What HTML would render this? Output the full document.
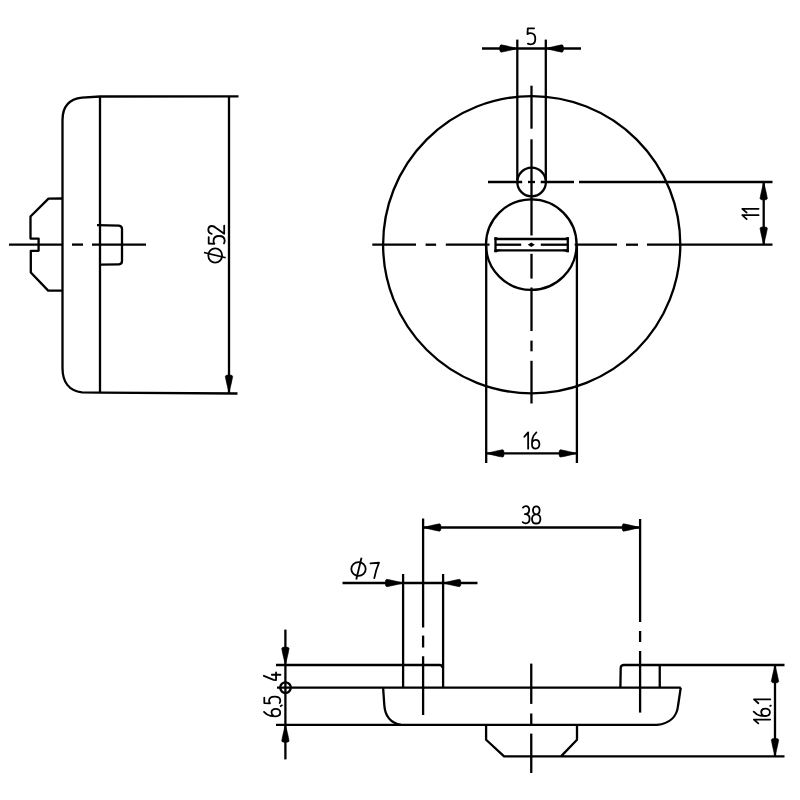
<!DOCTYPE html>
<html><head><meta charset="utf-8"><style>
html,body{margin:0;padding:0;background:#fff;}
body{width:800px;height:800px;overflow:hidden;font-family:"Liberation Sans",sans-serif;}
svg{display:block;}
</style></head><body>
<svg width="800" height="800" viewBox="0 0 800 800">
<g fill="none" stroke="#000" stroke-linecap="butt" stroke-linejoin="round">
<path d="M100,96.5 L82,97.6 C69,99 62.5,107 62.5,120 L62.5,368 C62.5,382 69,391 82,392.3 L100,392.6" stroke-width="2.3"/>
<line x1="100" y1="96.5" x2="238.5" y2="96.3" stroke-width="2.3"/>
<line x1="100" y1="392.6" x2="237.5" y2="393.5" stroke-width="2.3"/>
<line x1="100" y1="96.5" x2="100" y2="392.6" stroke-width="2.3"/>
<path d="M62.5,198.5 L48.5,198.6 L30.5,216.5 L30.5,238.6 L38.6,238.6 L38.6,250.8 L30.8,250.8 L30.8,272.5 L48.2,290.6 L62.5,290.6" stroke-width="2.3"/>
<path d="M97,225.2 L119,225.6 Q122,226 122,229 L122,261 Q122,264.2 119,264.3 L100,264.6" stroke-width="2.3"/>
<line x1="9" y1="244.6" x2="62.5" y2="244.6" stroke-width="2.3"/>
<line x1="72" y1="244.6" x2="83" y2="244.6" stroke-width="2.3"/>
<line x1="92" y1="244.6" x2="146" y2="244.6" stroke-width="2.3"/>
<line x1="229" y1="96.3" x2="229" y2="393.5" stroke-width="2.3"/>
<path transform="translate(229,392.6) rotate(90)" d="M0,0 C-5,-1.2 -11,-2.9 -16.2,-3.7 Q-17.8,-3.6 -17.6,0 Q-17.8,3.6 -16.2,3.7 C-11,2.9 -5,1.2 0,0 Z" fill="#000" stroke="#000" stroke-width="0.6" stroke-linejoin="round"/>
<circle cx="531.7" cy="244.7" r="148.6" stroke-width="2.3"/>
<circle cx="531.6" cy="182" r="14.3" stroke-width="2.3"/>
<circle cx="531.3" cy="244.6" r="45.3" stroke-width="2.3"/>
<line x1="517.3" y1="39.6" x2="517.3" y2="180" stroke-width="2.3"/>
<line x1="545.8" y1="39.6" x2="545.8" y2="180" stroke-width="2.3"/>
<line x1="482" y1="48.5" x2="581" y2="48.5" stroke-width="2.3"/>
<path transform="translate(517.3,48.5) rotate(0)" d="M0,0 C-5,-1.2 -11,-2.9 -16.2,-3.7 Q-17.8,-3.6 -17.6,0 Q-17.8,3.6 -16.2,3.7 C-11,2.9 -5,1.2 0,0 Z" fill="#000" stroke="#000" stroke-width="0.6" stroke-linejoin="round"/>
<path transform="translate(545.8,48.5) rotate(180)" d="M0,0 C-5,-1.2 -11,-2.9 -16.2,-3.7 Q-17.8,-3.6 -17.6,0 Q-17.8,3.6 -16.2,3.7 C-11,2.9 -5,1.2 0,0 Z" fill="#000" stroke="#000" stroke-width="0.6" stroke-linejoin="round"/>
<line x1="531.5" y1="85.7" x2="531.5" y2="128.7" stroke-width="2.3"/>
<line x1="531.5" y1="139.3" x2="531.5" y2="235.5" stroke-width="2.3"/>
<line x1="531.5" y1="253.8" x2="531.5" y2="278.6" stroke-width="2.3"/>
<line x1="531.5" y1="287.5" x2="531.5" y2="331" stroke-width="2.3"/>
<line x1="531.5" y1="340.6" x2="531.5" y2="351.3" stroke-width="2.3"/>
<line x1="531.5" y1="360.8" x2="531.5" y2="403.5" stroke-width="2.3"/>
<line x1="488" y1="182" x2="522.2" y2="182" stroke-width="2.3"/>
<line x1="528" y1="182" x2="535" y2="182" stroke-width="2.3"/>
<line x1="540.7" y1="182" x2="574" y2="182" stroke-width="2.3"/>
<line x1="579" y1="182" x2="772.5" y2="182" stroke-width="2.3"/>
<line x1="372.3" y1="244.7" x2="416" y2="244.7" stroke-width="2.3"/>
<line x1="425.6" y1="244.7" x2="436.1" y2="244.7" stroke-width="2.3"/>
<line x1="445.8" y1="244.7" x2="489.5" y2="244.7" stroke-width="2.3"/>
<line x1="495.5" y1="244.7" x2="521.2" y2="244.7" stroke-width="2.3"/>
<line x1="540.8" y1="244.7" x2="567.8" y2="244.7" stroke-width="2.3"/>
<line x1="574.7" y1="244.7" x2="617" y2="244.7" stroke-width="2.3"/>
<line x1="626" y1="244.7" x2="638" y2="244.7" stroke-width="2.3"/>
<line x1="647" y1="244.7" x2="772.5" y2="244.7" stroke-width="2.3"/>
<path d="M527.8,244.8 L531.3,242.6 L534.8,244.8 L531.3,247 Z" fill="#000" stroke="none"/>
<line x1="495.5" y1="239" x2="567.8" y2="239" stroke-width="2.3"/>
<line x1="495.5" y1="250.4" x2="567.8" y2="250.4" stroke-width="2.3"/>
<line x1="495.5" y1="237.4" x2="495.5" y2="252.1" stroke-width="2.3"/>
<line x1="567.8" y1="237.4" x2="567.8" y2="252.1" stroke-width="2.3"/>
<path d="M494.4,237.2 L496.6,237.2 Q497.6,238.3 500.5,238.4 L500.5,240 L494.4,240 Z" fill="#000" stroke="none"/>
<path d="M494.4,252.3 L496.6,252.3 Q497.6,251.2 500.5,251.0 L500.5,249.6 L494.4,249.6 Z" fill="#000" stroke="none"/>
<path d="M568.9,237.2 L566.7,237.2 Q565.7,238.3 562.8,238.4 L562.8,240 L568.9,240 Z" fill="#000" stroke="none"/>
<path d="M568.9,252.3 L566.7,252.3 Q565.7,251.2 562.8,251.0 L562.8,249.6 L568.9,249.6 Z" fill="#000" stroke="none"/>
<line x1="486.2" y1="246" x2="486.2" y2="463" stroke-width="2.3"/>
<line x1="576.9" y1="246" x2="576.9" y2="463" stroke-width="2.3"/>
<line x1="763.7" y1="182" x2="763.7" y2="244.8" stroke-width="2.3"/>
<path transform="translate(763.7,182.3) rotate(-90)" d="M0,0 C-5,-1.2 -11,-2.9 -16.2,-3.7 Q-17.8,-3.6 -17.6,0 Q-17.8,3.6 -16.2,3.7 C-11,2.9 -5,1.2 0,0 Z" fill="#000" stroke="#000" stroke-width="0.6" stroke-linejoin="round"/>
<path transform="translate(763.7,244.5) rotate(90)" d="M0,0 C-5,-1.2 -11,-2.9 -16.2,-3.7 Q-17.8,-3.6 -17.6,0 Q-17.8,3.6 -16.2,3.7 C-11,2.9 -5,1.2 0,0 Z" fill="#000" stroke="#000" stroke-width="0.6" stroke-linejoin="round"/>
<line x1="486.2" y1="453.4" x2="576.9" y2="453.4" stroke-width="2.3"/>
<path transform="translate(486.4,453.4) rotate(180)" d="M0,0 C-5,-1.2 -11,-2.9 -16.2,-3.7 Q-17.8,-3.6 -17.6,0 Q-17.8,3.6 -16.2,3.7 C-11,2.9 -5,1.2 0,0 Z" fill="#000" stroke="#000" stroke-width="0.6" stroke-linejoin="round"/>
<path transform="translate(576.7,453.4) rotate(0)" d="M0,0 C-5,-1.2 -11,-2.9 -16.2,-3.7 Q-17.8,-3.6 -17.6,0 Q-17.8,3.6 -16.2,3.7 C-11,2.9 -5,1.2 0,0 Z" fill="#000" stroke="#000" stroke-width="0.6" stroke-linejoin="round"/>
<line x1="423.1" y1="518.5" x2="423.1" y2="627.5" stroke-width="2.3"/>
<line x1="423.1" y1="635.6" x2="423.1" y2="647.5" stroke-width="2.3"/>
<line x1="423.1" y1="656.25" x2="423.1" y2="715" stroke-width="2.3"/>
<line x1="640.1" y1="519" x2="640.1" y2="622" stroke-width="2.3"/>
<line x1="640.1" y1="631" x2="640.1" y2="642" stroke-width="2.3"/>
<line x1="640.1" y1="651" x2="640.1" y2="712.6" stroke-width="2.3"/>
<line x1="423.1" y1="527.5" x2="640" y2="527.5" stroke-width="2.3"/>
<path transform="translate(423.3,527.5) rotate(180)" d="M0,0 C-5,-1.2 -11,-2.9 -16.2,-3.7 Q-17.8,-3.6 -17.6,0 Q-17.8,3.6 -16.2,3.7 C-11,2.9 -5,1.2 0,0 Z" fill="#000" stroke="#000" stroke-width="0.6" stroke-linejoin="round"/>
<path transform="translate(639.8,527.5) rotate(0)" d="M0,0 C-5,-1.2 -11,-2.9 -16.2,-3.7 Q-17.8,-3.6 -17.6,0 Q-17.8,3.6 -16.2,3.7 C-11,2.9 -5,1.2 0,0 Z" fill="#000" stroke="#000" stroke-width="0.6" stroke-linejoin="round"/>
<line x1="403.1" y1="574" x2="403.1" y2="687.5" stroke-width="2.3"/>
<line x1="443.1" y1="574" x2="443.1" y2="687.5" stroke-width="2.3"/>
<line x1="342.5" y1="583" x2="477.5" y2="583" stroke-width="2.3"/>
<path transform="translate(403,583) rotate(0)" d="M0,0 C-5,-1.2 -11,-2.9 -16.2,-3.7 Q-17.8,-3.6 -17.6,0 Q-17.8,3.6 -16.2,3.7 C-11,2.9 -5,1.2 0,0 Z" fill="#000" stroke="#000" stroke-width="0.6" stroke-linejoin="round"/>
<path transform="translate(443.2,583) rotate(180)" d="M0,0 C-5,-1.2 -11,-2.9 -16.2,-3.7 Q-17.8,-3.6 -17.6,0 Q-17.8,3.6 -16.2,3.7 C-11,2.9 -5,1.2 0,0 Z" fill="#000" stroke="#000" stroke-width="0.6" stroke-linejoin="round"/>
<path d="M276,665 L440,665 Q442.6,665.3 442.6,668" stroke-width="2.3"/>
<path d="M784.5,665 L623.5,665 Q620.8,665.3 620.7,668 L620.4,687.5" stroke-width="2.3"/>
<line x1="659.75" y1="665" x2="659.75" y2="687.5" stroke-width="2.3"/>
<line x1="277" y1="687.6" x2="680.75" y2="687.6" stroke-width="2.3"/>
<path d="M383.1,687.6 L384.3,705 C385,716 391,723 401,724.9 L657,724.9 C670,723.5 677,716 678,706 L680.75,687.6" stroke-width="2.3"/>
<line x1="276" y1="724.9" x2="401" y2="724.9" stroke-width="2.3"/>
<path d="M486.1,724.9 L486.1,739.75 L504.1,756.4 L784.5,756.4 M577,724.9 L577,739.75 L561,756.4" stroke-width="2.3"/>
<line x1="531.25" y1="663.6" x2="531.25" y2="703.9" stroke-width="2.3"/>
<line x1="531.25" y1="713.5" x2="531.25" y2="724" stroke-width="2.3"/>
<line x1="531.25" y1="733.6" x2="531.25" y2="773" stroke-width="2.3"/>
<line x1="775" y1="665" x2="775" y2="756.4" stroke-width="2.3"/>
<path transform="translate(775,665.3) rotate(-90)" d="M0,0 C-5,-1.2 -11,-2.9 -16.2,-3.7 Q-17.8,-3.6 -17.6,0 Q-17.8,3.6 -16.2,3.7 C-11,2.9 -5,1.2 0,0 Z" fill="#000" stroke="#000" stroke-width="0.6" stroke-linejoin="round"/>
<path transform="translate(775,756.1) rotate(90)" d="M0,0 C-5,-1.2 -11,-2.9 -16.2,-3.7 Q-17.8,-3.6 -17.6,0 Q-17.8,3.6 -16.2,3.7 C-11,2.9 -5,1.2 0,0 Z" fill="#000" stroke="#000" stroke-width="0.6" stroke-linejoin="round"/>
<line x1="285.4" y1="629.6" x2="285.4" y2="759.4" stroke-width="2.3"/>
<path transform="translate(285.4,664.7) rotate(90)" d="M0,0 C-5,-1.2 -11,-2.9 -16.2,-3.7 Q-17.8,-3.6 -17.6,0 Q-17.8,3.6 -16.2,3.7 C-11,2.9 -5,1.2 0,0 Z" fill="#000" stroke="#000" stroke-width="0.6" stroke-linejoin="round"/>
<path transform="translate(285.4,724.7) rotate(-90)" d="M0,0 C-5,-1.2 -11,-2.9 -16.2,-3.7 Q-17.8,-3.6 -17.6,0 Q-17.8,3.6 -16.2,3.7 C-11,2.9 -5,1.2 0,0 Z" fill="#000" stroke="#000" stroke-width="0.6" stroke-linejoin="round"/>
<circle cx="285.5" cy="687.6" r="5.3" stroke-width="2.3"/>
<path transform="translate(527.5,28.3)" d="M6.6,0 L0.3,0 L0,5.7 C0.8,5.1 1.8,4.8 2.9,4.8 C5.8,4.8 7.8,7 7.8,10.4 C7.8,14 5.8,16 3.1,16 C1.9,16 1,15.6 0.4,15.3" stroke-width="1.8" stroke-linecap="round" vector-effect="non-scaling-stroke"/>
<path transform="translate(524.3,432.4)" d="M0,4.35 L3.85,0 L3.85,16.25" stroke-width="1.8" stroke-linecap="round" vector-effect="non-scaling-stroke"/>
<path transform="translate(532,432.4)" d="M4.4,0 C2.6,1.6 0.9,3.6 0.4,6.5 C0.1,8.2 0,9.8 0,11.8 C0,14.5 1.5,16.2 3.7,16.2 C5.9,16.2 7.4,14.5 7.4,11.9 C7.4,9.3 5.9,7.5 3.7,7.5 C2.2,7.5 0.9,8.3 0.2,9.8" stroke-width="1.8" stroke-linecap="round" vector-effect="non-scaling-stroke"/>
<path transform="translate(522.7,506.2)" d="M0.3,1.4 C1,0.5 2,0 3.2,0 C5.2,0 6.5,1.4 6.5,3.9 C6.5,6.4 5,7.9 2.2,8 C5.4,8 6.9,9.9 6.9,12.6 C6.9,15.5 5.2,17.1 3,17.1 C1.7,17.1 0.7,16.6 0,15.9" stroke-width="1.8" stroke-linecap="round" vector-effect="non-scaling-stroke"/>
<path transform="translate(532,506.3)" d="M4.3,8 C2.2,8 1,6.5 1,4 C1,1.6 2.3,0 4.3,0 C6.3,0 7.6,1.6 7.6,4 C7.6,6.5 6.4,8 4.3,8 C1.8,8 0,9.8 0,12.6 C0,15.4 1.8,17.2 4.2,17.2 C6.6,17.2 8.4,15.4 8.4,12.6 C8.4,9.8 6.8,8 4.3,8" stroke-width="1.8" stroke-linecap="round" vector-effect="non-scaling-stroke"/>
<g transform="translate(358.5,569)"><ellipse cx="0" cy="0" rx="7.2" ry="6.9" stroke-width="1.8"/><path d="M3,-11.25 L-2.25,10.5" stroke-width="1.8"/></g>
<path transform="translate(370.5,562.75)" d="M0,0.7 L8.5,0 C6.6,4.2 5,9.2 3.8,15.3" stroke-width="1.8" stroke-linecap="round" vector-effect="non-scaling-stroke"/>
<path transform="translate(208.3,234.2) rotate(-90)" d="M0.4,3.4 C0.8,1.2 2.4,0 4.4,0 C6.6,0 8.2,1.4 8.2,3.6 C8.2,5.2 7.5,6.3 6.2,7.8 L0.5,15.9 L8.5,15.9" stroke-width="1.8" stroke-linecap="round" vector-effect="non-scaling-stroke"/>
<path transform="translate(208.7,243.8) rotate(-90)" d="M6.6,0 L0.3,0 L0,5.7 C0.8,5.1 1.8,4.8 2.9,4.8 C5.8,4.8 7.8,7 7.8,10.4 C7.8,14 5.8,16 3.1,16 C1.9,16 1,15.6 0.4,15.3" stroke-width="1.8" stroke-linecap="round" vector-effect="non-scaling-stroke"/>
<g transform="translate(215.2,255.5) rotate(-90)"><ellipse cx="0" cy="0" rx="7.2" ry="6.9" stroke-width="1.8"/><path d="M3,-11.25 L-2.25,10.5" stroke-width="1.8"/></g>
<path transform="translate(742.3,212.65) rotate(-90)" d="M0,4.35 L3.85,0 L3.85,16.25" stroke-width="1.8" stroke-linecap="round" vector-effect="non-scaling-stroke"/>
<path transform="translate(742.3,219.05) rotate(-90)" d="M0,4.35 L3.85,0 L3.85,16.25" stroke-width="1.8" stroke-linecap="round" vector-effect="non-scaling-stroke"/>
<path transform="translate(753.9,723.4) rotate(-90)" d="M0,4.35 L3.85,0 L3.85,16.25" stroke-width="1.8" stroke-linecap="round" vector-effect="non-scaling-stroke"/>
<path transform="translate(753.7,716) rotate(-90)" d="M4.4,0 C2.6,1.6 0.9,3.6 0.4,6.5 C0.1,8.2 0,9.8 0,11.8 C0,14.5 1.5,16.2 3.7,16.2 C5.9,16.2 7.4,14.5 7.4,11.9 C7.4,9.3 5.9,7.5 3.7,7.5 C2.2,7.5 0.9,8.3 0.2,9.8" stroke-width="1.8" stroke-linecap="round" vector-effect="non-scaling-stroke"/>
<line x1="769.5" y1="706.2" x2="771.5" y2="705.2" stroke-width="1.6"/>
<path transform="translate(754,703.25) rotate(-90)" d="M0,4.35 L3.85,0 L3.85,16.25" stroke-width="1.8" stroke-linecap="round" vector-effect="non-scaling-stroke"/>
<path transform="translate(263.85,680.5) rotate(-90)" d="M4.7,0 L0.6,9.8 L0.3,12.2 L8.2,12.2 M5.75,8 L5.75,16.6" stroke-width="1.8" stroke-linecap="round" vector-effect="non-scaling-stroke"/>
<path transform="translate(264,716.3) rotate(-90)" d="M4.4,0 C2.6,1.6 0.9,3.6 0.4,6.5 C0.1,8.2 0,9.8 0,11.8 C0,14.5 1.5,16.2 3.7,16.2 C5.9,16.2 7.4,14.5 7.4,11.9 C7.4,9.3 5.9,7.5 3.7,7.5 C2.2,7.5 0.9,8.3 0.2,9.8" stroke-width="1.8" stroke-linecap="round" vector-effect="non-scaling-stroke"/>
<line x1="280" y1="706.5" x2="282.5" y2="705" stroke-width="1.6"/>
<path transform="translate(264.3,703.3) rotate(-90) scale(0.85,1.0)" d="M6.6,0 L0.3,0 L0,5.7 C0.8,5.1 1.8,4.8 2.9,4.8 C5.8,4.8 7.8,7 7.8,10.4 C7.8,14 5.8,16 3.1,16 C1.9,16 1,15.6 0.4,15.3" stroke-width="1.8" stroke-linecap="round" vector-effect="non-scaling-stroke"/>
</g>
</svg>
</body></html>
